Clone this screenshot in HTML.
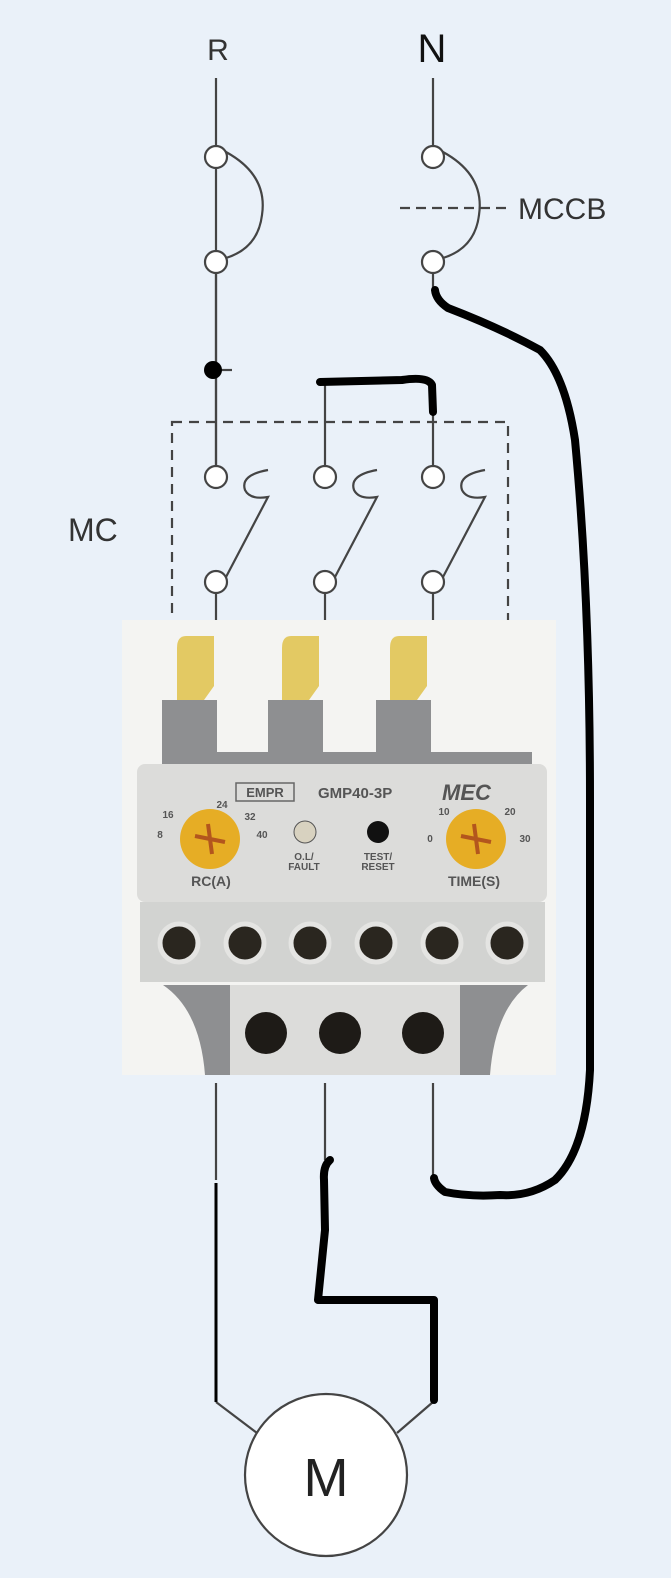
<!DOCTYPE html>
<html><head><meta charset="utf-8"><style>
html,body{margin:0;padding:0;background:#eaf1f9;}
svg{display:block;font-family:"Liberation Sans",sans-serif;}
</style></head><body>
<svg width="671" height="1578" viewBox="0 0 671 1578" xmlns="http://www.w3.org/2000/svg">
<rect width="671" height="1578" fill="#eaf1f9"/>
<g stroke="#444" stroke-width="2.2" fill="none">
<!-- R -->
<line x1="216" y1="78" x2="216" y2="146"/>
<line x1="216" y1="168" x2="216" y2="468"/>
<circle cx="216" cy="157" r="11" fill="#fff"/>
<circle cx="216" cy="262" r="11" fill="#fff"/>
<path d="M226 152 Q268 175 262 215 Q258 248 226 258"/>
<line x1="216" y1="273" x2="216" y2="468"/>
<line x1="216" y1="370" x2="232" y2="370"/>
<!-- N -->
<line x1="433" y1="78" x2="433" y2="146"/>
<circle cx="433" cy="157" r="11" fill="#fff"/>
<circle cx="433" cy="262" r="11" fill="#fff"/>
<path d="M443 152 Q485 175 479 215 Q475 248 443 258"/>
<line x1="433" y1="273" x2="433" y2="290"/>
<line x1="433" y1="382" x2="433" y2="468"/>
<line x1="400" y1="208" x2="510" y2="208" stroke-dasharray="10,6"/>
<!-- middle -->
<line x1="325" y1="382" x2="325" y2="468"/>
<!-- MC box -->
<rect x="172" y="422" width="336" height="210" stroke-dasharray="10,7"/>
</g>
<g stroke="#444" stroke-width="2.2" fill="#fff">
<circle cx="216" cy="477" r="11"/><circle cx="216" cy="582" r="11"/>
<circle cx="325" cy="477" r="11"/><circle cx="325" cy="582" r="11"/>
<circle cx="433" cy="477" r="11"/><circle cx="433" cy="582" r="11"/>
</g>
<g stroke="#444" stroke-width="2.2" fill="none">
<path d="M226 577 L268 497 Q250 500 245 490 Q240 475 268 470"/>
<path d="M335 577 L377 497 Q359 500 354 490 Q349 475 377 470"/>
<path d="M443 577 L485 497 Q467 500 462 490 Q457 475 485 470"/>
<line x1="216" y1="593" x2="216" y2="620"/>
<line x1="325" y1="593" x2="325" y2="620"/>
<line x1="433" y1="593" x2="433" y2="620"/>
</g>
<circle cx="213" cy="370" r="9" fill="#000"/>
<text x="218" y="60" font-size="30" text-anchor="middle" fill="#333">R</text>
<text x="432" y="62" font-size="40" text-anchor="middle" fill="#111">N</text>
<text x="518" y="219" font-size="30" fill="#333">MCCB</text>
<text x="68" y="541" font-size="32" fill="#333">MC</text>

<!-- relay -->
<rect x="122" y="620" width="434" height="455" fill="#f4f4f2"/>
<g fill="#8e8f91">
<rect x="162" y="700" width="55" height="70"/>
<rect x="268" y="700" width="55" height="70"/>
<rect x="376" y="700" width="55" height="70"/>
<rect x="162" y="752" width="370" height="20"/>
</g>
<g fill="#e3c963">
<path d="M177 648 Q177 636 186 636 L214 636 L214 686 L204 700 L177 700 Z"/>
<path d="M282 648 Q282 636 291 636 L319 636 L319 686 L309 700 L282 700 Z"/>
<path d="M390 648 Q390 636 399 636 L427 636 L427 686 L417 700 L390 700 Z"/>
</g>
<rect x="137" y="764" width="410" height="138" rx="8" fill="#dcdcda"/>
<rect x="140" y="902" width="405" height="80" fill="#d2d3d1"/>
<rect x="236" y="783" width="58" height="18" fill="none" stroke="#666" stroke-width="1.5"/>
<text x="265" y="797" font-size="13" font-weight="bold" fill="#555" text-anchor="middle">EMPR</text>
<text x="318" y="798" font-size="15" font-weight="bold" fill="#555">GMP40-3P</text>
<text x="442" y="800" font-size="22" font-weight="bold" font-style="italic" fill="#555">MEC</text>
<circle cx="210" cy="839" r="30" fill="#e6ad25"/>
<circle cx="476" cy="839" r="30" fill="#e6ad25"/>
<path d="M195 836 L225 842 M208 824 L212 854" stroke="#b3561d" stroke-width="4"/>
<path d="M461 836 L491 842 M474 824 L478 854" stroke="#b3561d" stroke-width="4"/>
<circle cx="305" cy="832" r="11" fill="#d8d2c0" stroke="#555"/>
<circle cx="378" cy="832" r="11" fill="#111"/>
<g font-size="10" font-weight="bold" fill="#555" text-anchor="middle">
<text x="304" y="860">O.L/</text><text x="304" y="870">FAULT</text>
<text x="378" y="860">TEST/</text><text x="378" y="870">RESET</text>
<text x="168" y="818">16</text><text x="222" y="808">24</text><text x="250" y="820">32</text><text x="262" y="838">40</text><text x="160" y="838">8</text>
<text x="444" y="815">10</text><text x="510" y="815">20</text><text x="525" y="842">30</text><text x="430" y="842">0</text>
</g>
<text x="211" y="886" font-size="14" font-weight="bold" fill="#555" text-anchor="middle">RC(A)</text>
<text x="474" y="886" font-size="14" font-weight="bold" fill="#555" text-anchor="middle">TIME(S)</text>
<g fill="#2a261f" stroke="#e4e4e2" stroke-width="5">
<circle cx="179" cy="943" r="19"/><circle cx="245" cy="943" r="19"/><circle cx="310" cy="943" r="19"/>
<circle cx="376" cy="943" r="19"/><circle cx="442" cy="943" r="19"/><circle cx="507" cy="943" r="19"/>
</g>
<path d="M163 985 L230 985 L230 1075 L205 1075 Q200 1010 163 985 Z" fill="#8e8f91"/>
<path d="M528 985 L460 985 L460 1075 L490 1075 Q495 1010 528 985 Z" fill="#8e8f91"/>
<rect x="230" y="985" width="230" height="90" fill="#dcdcda"/>
<g fill="#1e1b17">
<circle cx="266" cy="1033" r="21"/><circle cx="340" cy="1033" r="21"/><circle cx="423" cy="1033" r="21"/>
</g>

<!-- bottom -->
<g stroke="#444" stroke-width="2.2" fill="none">
<line x1="216" y1="1083" x2="216" y2="1180"/>
<line x1="325" y1="1083" x2="325" y2="1160"/>
<line x1="433" y1="1083" x2="433" y2="1178"/>
<line x1="216" y1="1402" x2="257" y2="1433"/>
<line x1="433" y1="1402" x2="397" y2="1433"/>
</g>
<line x1="216" y1="1183" x2="216" y2="1402" stroke="#000" stroke-width="3"/>
<circle cx="326" cy="1475" r="81" fill="#fff" stroke="#444" stroke-width="2.2"/>
<text x="326" y="1496" font-size="54" text-anchor="middle" fill="#222">M</text>
<g stroke="#000" stroke-width="8" fill="none" stroke-linecap="round" stroke-linejoin="round">
<path d="M320 382 L402 380 Q428 376 432 385 L433 412"/>
<path d="M330 1160 Q323 1166 324 1180 L325 1230 L318 1300 L434 1300 L434 1400"/>
<path d="M435 290 Q436 300 448 308 Q500 328 540 350 Q565 375 575 440 Q590 600 590 800 Q590 1000 590 1070 Q586 1150 555 1180 Q530 1197 500 1195 Q470 1197 445 1192 Q435 1185 434 1178"/>
</g>
</svg>
</body></html>
